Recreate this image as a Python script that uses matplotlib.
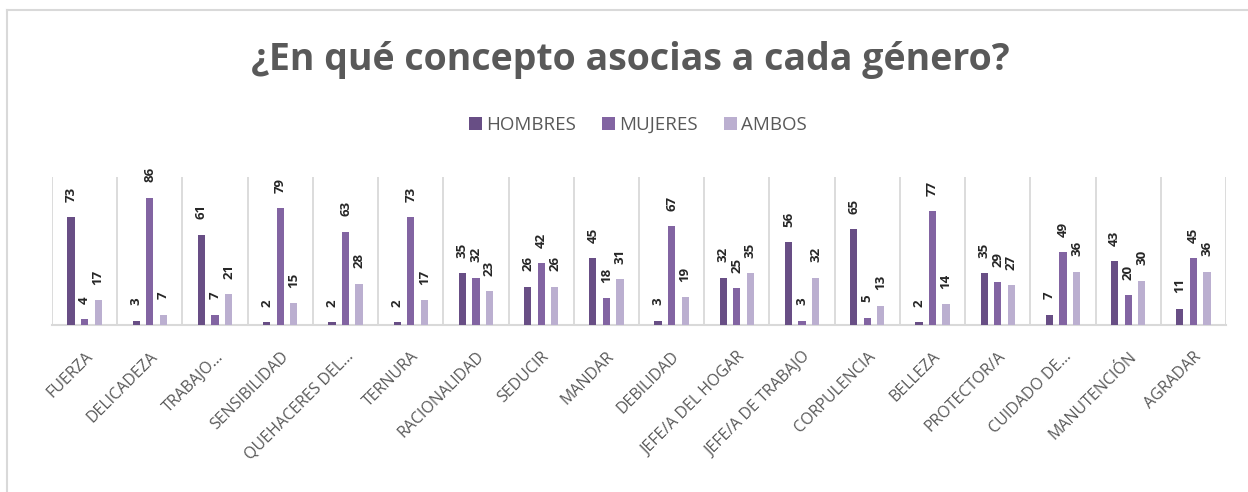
# Grouped bar chart: ¿En qué concepto asocias a cada género?

import numpy as np
import matplotlib.pyplot as plt
from matplotlib.lines import Line2D
from matplotlib.patches import Patch

conceptos = ['FUERZA', 'DELICADEZA', 'TRABAJO…', 'SENSIBILIDAD', 'QUEHACERES DEL…',
             'TERNURA', 'RACIONALIDAD', 'SEDUCIR', 'MANDAR', 'DEBILIDAD',
             'JEFE/A DEL HOGAR', 'JEFE/A DE TRABAJO', 'CORPULENCIA', 'BELLEZA',
             'PROTECTOR/A', 'CUIDADO DE…', 'MANUTENCIÓN', 'AGRADAR']
hombres = [73, 3, 61, 2, 2, 2, 35, 26, 45, 3, 32, 56, 65, 2, 35, 7, 43, 11]
mujeres = [4, 86, 7, 79, 63, 73, 32, 42, 18, 67, 25, 3, 5, 77, 29, 49, 20, 45]
ambos = [17, 7, 21, 15, 28, 17, 23, 26, 31, 19, 35, 32, 13, 14, 27, 36, 30, 36]
series_names = ['HOMBRES', 'MUJERES', 'AMBOS']

colors = ['#684e85', '#8264a2', '#bbafd0']
grid_col = '#d9d9d9'
text_col = '#595959'

plt.rcParams['font.family'] = ['Open Sans', 'DejaVu Sans']

fig = plt.figure(figsize=(12.48, 4.92), dpi=100)
ax = fig.add_axes([52/1248, 1-325/492, (1226-52)/1248, 148/492])

x = np.arange(len(conceptos))
width = 0.112
step = 0.208
for i, (vals, col) in enumerate(zip([hombres, mujeres, ambos], colors)):
    pos = x + (i - 1) * step
    ax.bar(pos, vals, width=width, color=col, zorder=3)
    for p, v in zip(pos, vals):
        ax.annotate(str(v), (p, v), xytext=(0, 11), textcoords='offset points',
                    rotation=90, ha='center', va='bottom', fontsize=9.5,
                    fontweight='bold', color='#262626')

ax.set_xlim(-0.5, len(conceptos) - 0.5)
ax.set_ylim(0, 100)
for b in np.arange(-0.5, len(conceptos), 1):
    ax.axvline(b, color=grid_col, lw=1.3, zorder=1)

for s in ['top', 'right', 'left']:
    ax.spines[s].set_visible(False)
ax.spines['bottom'].set_color(grid_col)
ax.spines['bottom'].set_linewidth(1.5)
ax.set_yticks([])
ax.set_xticks(x)
ax.set_xticklabels(conceptos, rotation=45, ha='right', rotation_mode='anchor',
                   fontsize=11.5, color=text_col)
ax.tick_params(axis='x', length=0, pad=17)

fig.text(630/1248, 1-60/492, '¿En qué concepto asocias a cada género?',
         ha='center', va='center', fontsize=27, fontweight='bold', color=text_col)

handles = [Patch(facecolor=c, edgecolor='none') for c in colors]
fig.legend(handles, series_names, loc='center', bbox_to_anchor=(638/1248, 1-125/492),
           ncol=3, frameon=False, fontsize=13.5, labelcolor=text_col,
           handlelength=0.7, handleheight=0.7, handletextpad=0.2, columnspacing=1.4)

# chart border (left and top edges visible)
fig.add_artist(Line2D([7/1248, 7/1248], [0, 1-10/492], transform=fig.transFigure,
                      color=grid_col, lw=1.5))
fig.add_artist(Line2D([7/1248, 1], [1-10/492, 1-10/492], transform=fig.transFigure,
                      color=grid_col, lw=1.5))

fig.savefig('out.png', dpi=100)
